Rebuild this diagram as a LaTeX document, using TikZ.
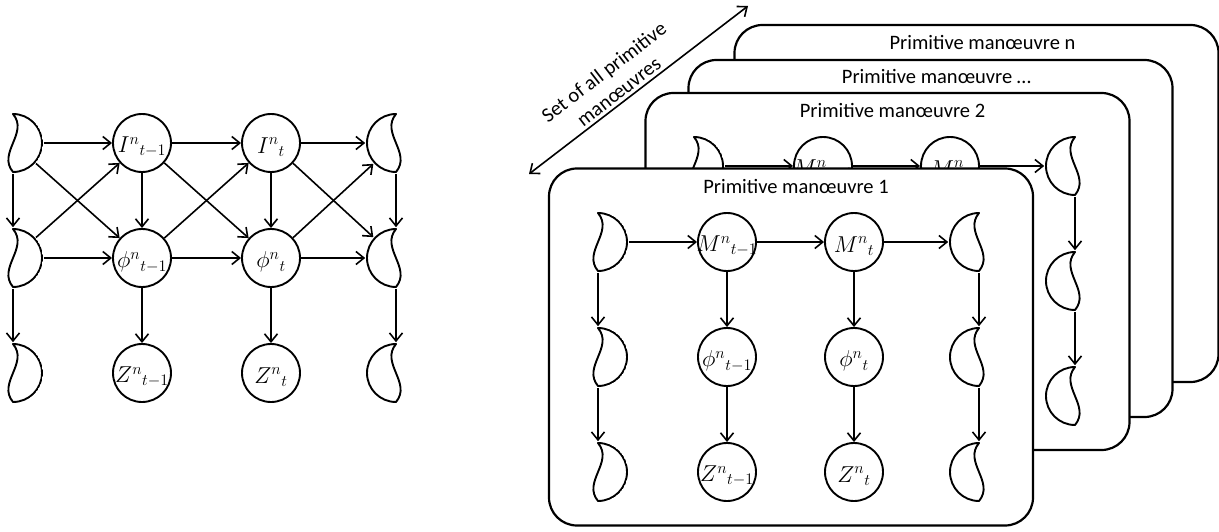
\documentclass[tikz,border=0pt]{standalone}
\usepackage{fix-cm}
\usepackage[no-math]{fontspec}
\setmainfont{Carlito}
\usetikzlibrary{arrows.meta,positioning}

\begin{document}
\begin{tikzpicture}[x=1pt,y=-1pt,line width=1.6pt,
 >={Straight Barb[length=8pt,width=13pt]},
 font=\fontsize{20.5}{24.6}\selectfont,
 every label/.style={font=\fontsize{23}{26}\selectfont,inner sep=0pt},
 var/.style={circle,draw,line width=1.9pt,minimum size=58pt,inner sep=0pt,label={[yshift=-4pt]center:$#1$}},
 moon/.style={circle,minimum size=60pt,inner sep=0pt},
 moonR/.style={moon,path picture={\draw[line width=1.9pt,line join=round]
   ([yshift=29pt]path picture bounding box.center) arc[start angle=90,end angle=-90,radius=29pt]
   .. controls ([shift={(-16pt,-10pt)}]path picture bounding box.center)
   and ([shift={(16pt,10pt)}]path picture bounding box.center)
   .. ([yshift=29pt]path picture bounding box.center) -- cycle;}},
 moonL/.style={moon,path picture={\draw[line width=1.9pt,line join=round]
   ([yshift=29pt]path picture bounding box.center) arc[start angle=90,end angle=270,radius=29pt]
   .. controls ([shift={(16pt,-10pt)}]path picture bounding box.center)
   and ([shift={(-16pt,10pt)}]path picture bounding box.center)
   .. ([yshift=29pt]path picture bounding box.center) -- cycle;}},
 mbox/.style={draw,fill=white,rounded corners=28pt,line width=2.2pt,minimum width=484pt,minimum height=357pt},
 boxtitle/.style={inner sep=0pt}]
 \useasboundingbox (0,0) rectangle (1219,532);
 \node[moonR] (lm1) at (13,143) {};
 \node[moonR] (lm2) at (13,258) {};
 \node[moonR] (lm3) at (13,373) {};
 \node[var={I^{n}{}_{t-1}}] (i1) at (142,143) {};
 \node[var={I^{n}{}_{t}}] (i2) at (271,143) {};
 \node[var={\phi^{n}{}_{t-1}}] (f1) at (142,258) {};
 \node[var={\phi^{n}{}_{t}}] (f2) at (271,258) {};
 \node[var={Z^{n}{}_{t-1}}] (z1) at (142,373) {};
 \node[var={Z^{n}{}_{t}}] (z2) at (271,373) {};
 \node[moonL] (rm1) at (396,143) {};
 \node[moonL] (rm2) at (396,258) {};
 \node[moonL] (rm3) at (396,373) {};
 \draw[->] (lm1)--(i1); \draw[->] (i1)--(i2); \draw[->] (i2)--(rm1);
 \draw[->] (lm2)--(f1); \draw[->] (f1)--(f2); \draw[->] (f2)--(rm2);
 \draw[->] (lm1)--(lm2); \draw[->] (lm2)--(lm3);
 \draw[->] (rm1)--(rm2); \draw[->] (rm2)--(rm3);
 \draw[->] (i1)--(f1); \draw[->] (i2)--(f2);
 \draw[->] (f1)--(z1); \draw[->] (f2)--(z2);
 \draw[->] (lm1)--(f1); \draw[->] (lm2)--(i1);
 \draw[->] (i1)--(f2); \draw[->] (f1)--(i2);
 \draw[->] (i2)--(rm2); \draw[->] (f2)--(rm1);

 \coordinate (sa) at (529,174); \coordinate (sb) at (748,6);
 \draw[<->] (sa)--node[pos=0.44,sloped,above,align=center,inner sep=3pt]
 {Set of all primitive\\manœuvres}(sb);

 \node[mbox] (bn) at (976.5,203.5) {};
 \node[boxtitle] (tn) at ([xshift=6pt,yshift=-19pt]bn.north) {Primitive manœuvre n};
 \node[mbox] (bd) at (930.5,238.5) {};
 \node[boxtitle] (td) at ([xshift=6pt,yshift=-18pt]bd.north) {Primitive manœuvre …};
 \node[mbox] (b2) at (887.5,271.5) {};
 \node[boxtitle] (t2) at ([xshift=5pt,yshift=-19pt]b2.north) {Primitive manœuvre 2};
 \node[moonR] (cm1) at (694,166) {};
 \node[var={M^{n}{}_{t-1}}] (mm1) at (823,166) {};
 \node[var={M^{n}{}_{t}}] (mm2) at (950,166) {};
 \node[moonL] (cn1) at (1075,166) {};
 \node[moonL] (cn2) at (1075,281) {};
 \node[moonL] (cn3) at (1075,396) {};
 \draw[->] (cm1)--(mm1); \draw[->] (mm1)--(mm2); \draw[->] (mm2)--(cn1);
 \draw[->] (cn1)--(cn2); \draw[->] (cn2)--(cn3);

 \node[mbox] (b1) at (791,347) {};
 \node[boxtitle] (t1) at ([xshift=5pt,yshift=-19pt]b1.north) {Primitive manœuvre 1};
 \node[moonR] (am1) at (598,242) {};
 \node[moonR] (am2) at (598,357) {};
 \node[moonR] (am3) at (598,472) {};
 \node[var={M^{n}{}_{t-1}}] (m1) at (727,242) {};
 \node[var={M^{n}{}_{t}}] (m2) at (854,242) {};
 \node[var={\phi^{n}{}_{t-1}}] (p1) at (727,357) {};
 \node[var={\phi^{n}{}_{t}}] (p2) at (854,357) {};
 \node[var={Z^{n}{}_{t-1}}] (q1) at (727,472) {};
 \node[var={Z^{n}{}_{t}}] (q2) at (854,472) {};
 \node[moonL] (bm1) at (979,242) {};
 \node[moonL] (bm2) at (979,357) {};
 \node[moonL] (bm3) at (979,472) {};
 \draw[->] (am1)--(m1); \draw[->] (m1)--(m2); \draw[->] (m2)--(bm1);
 \draw[->] (am1)--(am2); \draw[->] (am2)--(am3);
 \draw[->] (bm1)--(bm2); \draw[->] (bm2)--(bm3);
 \draw[->] (m1)--(p1); \draw[->] (p1)--(q1);
 \draw[->] (m2)--(p2); \draw[->] (p2)--(q2);
\end{tikzpicture}
\end{document}
